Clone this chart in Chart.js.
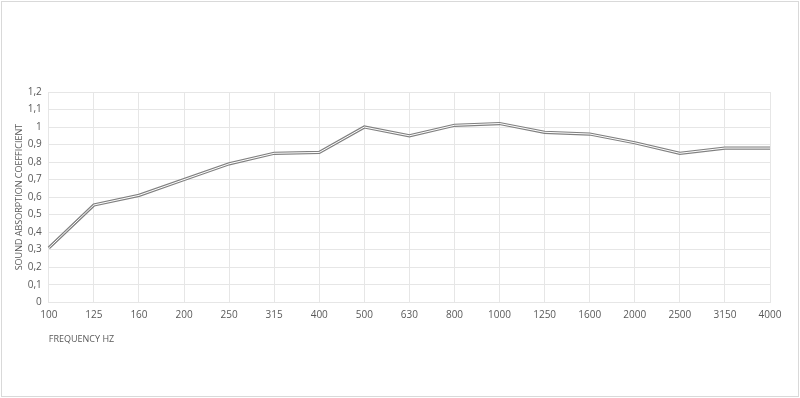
<!DOCTYPE html>
<html>
<head>
<meta charset="utf-8">
<script src="https://cdn.jsdelivr.net/npm/chart.js@4.4.1/dist/chart.umd.min.js"></script>
<style>
  html, body { margin: 0; padding: 0; background: #fff; }
  #frame { position: absolute; left: 1px; top: 1px; width: 796px; height: 394px; border: 1px solid #d9d9d9; }
  canvas { position: absolute; left: 0; top: 0; }
</style>
</head>
<body>
<div id="frame"></div>
<canvas id="chart" width="800" height="398"></canvas>
<script>
// Frequencies (Hz) and measured absorption coefficient
const frequencies = ['100', '125', '160', '200', '250', '315', '400', '500', '630', '800', '1000', '1250', '1600', '2000', '2500', '3150', '4000'];
const absorption = [0.31, 0.555, 0.61, 0.70, 0.79, 0.85, 0.855, 1.0, 0.95, 1.01, 1.02, 0.97, 0.96, 0.91, 0.85, 0.88, 0.88];

const gridColor = '#e6e6e6';
const textColor = '#595959';

Chart.defaults.font.family = '"Open Sans", "Liberation Sans", sans-serif';
Chart.defaults.font.size = 10;
Chart.defaults.color = textColor;

new Chart(document.getElementById('chart').getContext('2d'), {
    type: 'line',
    data: {
        labels: frequencies,
        datasets: [
            // inner white core drawn on top of the grey outline
            { data: absorption, borderColor: '#ffffff', borderWidth: 1, pointRadius: 0, tension: 0, order: 1 },
            { data: absorption, borderColor: '#808080', borderWidth: 3.2, pointRadius: 0, tension: 0, order: 2 }
        ]
    },
    options: {
        responsive: false,
        animation: false,
        layout: { padding: { left: 10, right: 30, top: 92, bottom: 49 } },
        plugins: { legend: { display: false }, tooltip: { enabled: false } },
        scales: {
            x: {
                offset: false,
                grid: { color: gridColor, drawTicks: false },
                border: { color: gridColor },
                ticks: { padding: 7, maxRotation: 0, autoSkip: false },
                title: { display: true, text: 'FREQUENCY HZ', align: 'start', padding: { top: 6 }, font: { size: 9 } }
            },
            y: {
                min: 0, max: 1.2,
                grid: { color: gridColor, drawTicks: false },
                border: { display: false },
                ticks: {
                    stepSize: 0.1, padding: 7,
                    callback: v => String(Math.round(v * 10) / 10).replace('.', ',')
                },
                title: { display: true, text: 'SOUND ABSORPTION COEFFICIENT', padding: { top: 4, bottom: -4 }, font: { size: 9 } }
            }
        }
    }
});
</script>
</body>
</html>
